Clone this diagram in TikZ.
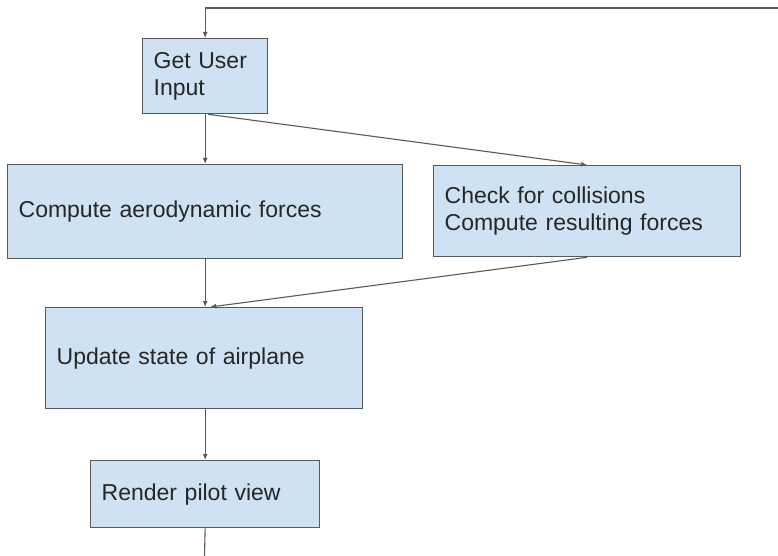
\documentclass[tikz,border=0pt]{standalone}
\usepackage{fontspec}
\setmainfont{Liberation Sans}
\usetikzlibrary{arrows.meta}
\definecolor{boxfill}{HTML}{CFE2F3}
\definecolor{boxline}{HTML}{595959}
\tikzset{
  stepbox/.style={draw=boxline, fill=boxfill, line width=1.3pt, anchor=north west,
    inner xsep=11pt, align=left, text=black!85, font=\fontsize{23}{26.5}\selectfont},
  arr/.style={draw=boxline, line width=1.1pt, -{Latex[length=6pt,width=5pt]}}
}
\begin{document}
\begin{tikzpicture}[x=1pt, y=-1pt]
    \useasboundingbox (0,0) rectangle (778,556);
    \node[stepbox, minimum width=125pt, minimum height=75pt, text width=103pt] (gui) at (142,38) {Get User\\Input};
    \node[stepbox, minimum width=395pt, minimum height=94pt, text width=373pt] (aero) at (7,164) {Compute aerodynamic forces};
    \node[stepbox, minimum width=307pt, minimum height=91pt, text width=285pt] (check) at (433,165) {Check for collisions\\Compute resulting forces};
    \node[stepbox, minimum width=317pt, minimum height=101pt, text width=295pt] (update) at (45,307) {Update state of airplane};
    \node[stepbox, minimum width=229pt, minimum height=67pt, text width=207pt] (render) at (90,460) {Render pilot view};
    \coordinate (loopin) at (778,8);
    \coordinate (loopout) at (204.5,556);
    \draw[arr] (loopin) -| (gui.north);
    \draw[arr] (gui.south) -- (gui.south |- aero.north);
    \draw[arr] ([xshift=3pt]gui.south) -- (check.north);
    \draw[arr] (aero.south) -- (aero.south |- update.north);
    \draw[arr] (check.south) -- ([xshift=6pt]update.north);
    \draw[arr] (update.south -| render.north) -- (render.north);
    \draw[draw=boxline, line width=1.1pt] (render.south) -- (loopout);
\end{tikzpicture}
\end{document}
